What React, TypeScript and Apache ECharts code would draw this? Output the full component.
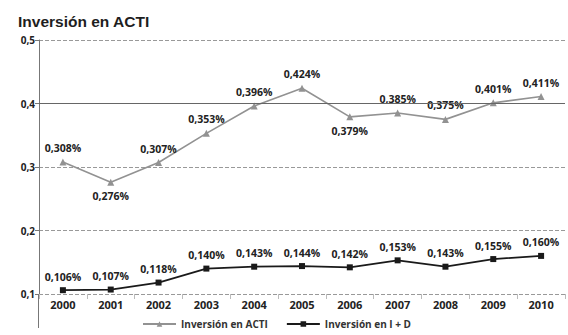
import React, { useEffect, useRef } from "react";
import * as echarts from "echarts";

const years = ["2000", "2001", "2002", "2003", "2004", "2005", "2006", "2007", "2008", "2009", "2010"];
const acti = [0.308, 0.276, 0.307, 0.353, 0.396, 0.424, 0.379, 0.385, 0.375, 0.401, 0.411];
const imasd = [0.106, 0.107, 0.118, 0.14, 0.143, 0.144, 0.142, 0.153, 0.143, 0.155, 0.16];
const actiLabelPos = ["top", "bottom", "top", "top", "top", "top", "bottom", "top", "top", "top", "top"];

const fmtPct = (v: number) => v.toFixed(3).replace(".", ",") + "%";
const lblFont = "'Open Sans', 'DejaVu Sans', sans-serif";

export default function App() {
  const ref = useRef<HTMLDivElement>(null);
  useEffect(() => {
    if (!ref.current) return;
    const chart = echarts.init(ref.current, null, { renderer: "svg" });
    chart.setOption({
      animation: false,
      backgroundColor: "#ffffff",
      title: {
        text: "Inversión en ACTI",
        left: 13,
        top: 8,
        textStyle: { fontFamily: "'Liberation Sans', Arial, sans-serif", fontWeight: "bold", fontSize: 15.5, color: "#1e1e1e" },
      },
      grid: { left: 39, right: 3, top: 40, bottom: 41, containLabel: false },
      legend: {
        bottom: 1,
        left: 137,
        itemGap: 18,
        itemWidth: 33,
        itemHeight: 7,
        textStyle: { fontFamily: lblFont, fontWeight: "bold", fontSize: 10, color: "#333" },
        data: ["Inversión en ACTI", "Inversión en I + D"],
      },
      xAxis: {
        type: "category",
        data: years,
        boundaryGap: true,
        axisLine: { show: false },
        axisTick: { show: true, length: 5, lineStyle: { color: "#bbb" } },
        axisLabel: { fontFamily: lblFont, fontWeight: "bold", fontSize: 11, color: "#222", margin: 5 },
        splitLine: { show: false },
      },
      yAxis: {
        type: "value",
        min: 0.1,
        max: 0.5,
        interval: 0.1,
        axisLine: { show: true, lineStyle: { color: "#777", width: 1 } },
        axisTick: { show: true, length: 4, lineStyle: { color: "#777" } },
        axisLabel: {
          fontFamily: lblFont,
          fontWeight: "bold",
          fontSize: 10,
          color: "#222",
          margin: 4,
          formatter: (v: number) => v.toFixed(1).replace(".", ","),
        },
        splitLine: { show: true, lineStyle: { color: "#999", type: [4, 2], width: 1 } },
      },
      graphic: [
        { type: "line", shape: { x1: 38.5, y1: 294, x2: 38.5, y2: 328 }, style: { stroke: "#777", lineWidth: 1 } },
      ],
      series: [
        {
          name: "Inversión en ACTI",
          type: "line",
          data: acti.map((v, i) => ({ value: v, label: { position: actiLabelPos[i] } })),
          symbol: "triangle",
          symbolSize: 7,
          itemStyle: { color: "#929292" },
          lineStyle: { color: "#929292", width: 1.6 },
          label: {
            show: true,
            distance: 5,
            fontFamily: lblFont,
            fontWeight: "bold",
            fontSize: 10.5,
            color: "#222",
            formatter: (p: any) => fmtPct(p.value),
          },
          markLine: {
            silent: true,
            symbol: "none",
            label: { show: false },
            lineStyle: { color: "#666", type: "solid", width: 1 },
            data: [{ yAxis: 0.4 }],
          },
          z: 3,
        },
        {
          name: "Inversión en I + D",
          type: "line",
          data: imasd,
          symbol: "rect",
          symbolSize: 6,
          itemStyle: { color: "#1a1a1a" },
          lineStyle: { color: "#1a1a1a", width: 1.8 },
          label: {
            show: true,
            position: "top",
            distance: 5,
            fontFamily: lblFont,
            fontWeight: "bold",
            fontSize: 10.5,
            color: "#222",
            formatter: (p: any) => fmtPct(p.value),
          },
          z: 4,
        },
      ],
    });
    return () => chart.dispose();
  }, []);
  return <div ref={ref} style={{ width: 568, height: 335, position: "absolute", left: 0, top: 0 }} />;
}
